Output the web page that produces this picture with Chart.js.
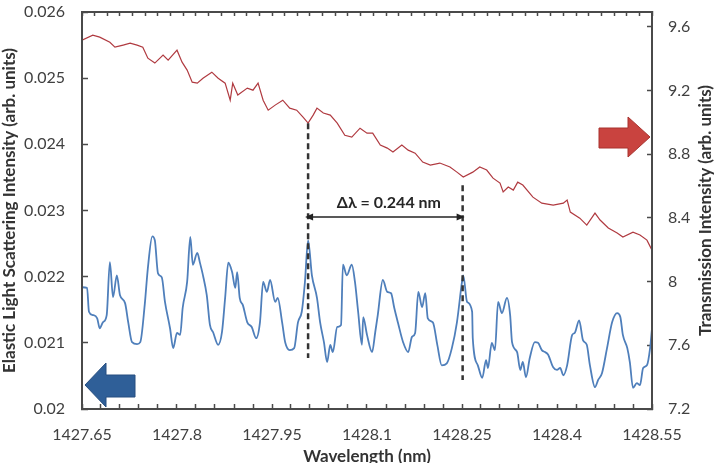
<!DOCTYPE html>
<html>
<head>
<meta charset="utf-8">
<script src="https://cdn.jsdelivr.net/npm/chart.js@4.4.0/dist/chart.umd.min.js"></script>
<style>
  html, body { margin: 0; padding: 0; background: #fff; }
  #wrap { width: 719px; height: 463px; }
</style>
</head>
<body>
<div id="wrap"><canvas id="chart" width="719" height="463"></canvas></div>
<script>
// axis ranges and ticks
const xMin = 1427.65, xMax = 1428.55;
const leftMin = 0.020, leftMax = 0.026;
const rightMin = 7.2, rightMax = 9.694;
const xTickValues = [1427.65, 1427.8, 1427.95, 1428.1, 1428.25, 1428.4, 1428.55];
const xTickLabels = ['1427.65', '1427.8', '1427.95', '1428.1', '1428.25', '1428.4', '1428.55'];
const leftTickValues = [0.020, 0.021, 0.022, 0.023, 0.024, 0.025, 0.026];
const leftTickLabels = ['0.02', '0.021', '0.022', '0.023', '0.024', '0.025', '0.026'];
const rightTickValues = [7.2, 7.6, 8.0, 8.4, 8.8, 9.2, 9.6];
const rightTickLabels = ['7.2', '7.6', '8', '8.4', '8.8', '9.2', '9.6'];
// minor tick marks: every 0.03 nm at the bottom, every 0.02 nm along the top
const xMinorTicks = Array.from({ length: 31 }, (_, i) => +(1427.65 + i * 0.03).toFixed(2));
const topTicks = Array.from({ length: 46 }, (_, i) => +(1427.65 + i * 0.02).toFixed(2));

// elastic light scattering (left axis)
const scatterWl = [1427.650,1427.658,1427.661,1427.667,1427.674,1427.678,1427.683,1427.689,1427.694,1427.699,
  1427.705,1427.710,1427.718,1427.723,1427.729,1427.737,1427.742,1427.749,1427.754,1427.761,
  1427.765,1427.770,1427.776,1427.781,1427.789,1427.794,1427.800,1427.805,1427.809,1427.816,
  1427.821,1427.825,1427.832,1427.836,1427.841,1427.847,1427.852,1427.857,1427.865,1427.871,
  1427.876,1427.881,1427.887,1427.892,1427.895,1427.899,1427.904,1427.911,1427.918,1427.925,
  1427.931,1427.936,1427.942,1427.947,1427.955,1427.959,1427.966,1427.971,1427.978,1427.985,
  1427.991,1427.997,1428.002,1428.007,1428.013,1428.021,1428.026,1428.032,1428.037,1428.042,
  1428.046,1428.053,1428.059,1428.062,1428.068,1428.076,1428.081,1428.086,1428.092,1428.094,
  1428.100,1428.108,1428.113,1428.117,1428.125,1428.132,1428.138,1428.143,1428.149,1428.157,
  1428.165,1428.171,1428.176,1428.181,1428.187,1428.192,1428.196,1428.204,1428.211,1428.218,
  1428.226,1428.234,1428.242,1428.250,1428.252,1428.258,1428.266,1428.267,1428.275,1428.282,
  1428.288,1428.291,1428.297,1428.302,1428.307,1428.313,1428.321,1428.326,1428.329,1428.337,
  1428.342,1428.346,1428.351,1428.357,1428.365,1428.370,1428.376,1428.381,1428.386,1428.394,
  1428.400,1428.405,1428.410,1428.416,1428.424,1428.428,1428.435,1428.441,1428.447,1428.452,
  1428.460,1428.465,1428.471,1428.479,1428.487,1428.495,1428.500,1428.504,1428.511,1428.515,
  1428.520,1428.526,1428.531,1428.536,1428.542,1428.547,1428.550];
const scatterVal = [0.02184,0.02183,0.02147,0.02142,0.02137,0.02122,0.02131,0.02142,0.02222,0.02169,
  0.02202,0.02172,0.02160,0.02131,0.02101,0.02098,0.02101,0.02157,0.02213,0.02261,
  0.02255,0.02205,0.02199,0.02162,0.02122,0.02092,0.02115,0.02112,0.02153,0.02192,
  0.02260,0.02218,0.02236,0.02222,0.02202,0.02172,0.02127,0.02116,0.02097,0.02116,
  0.02168,0.02221,0.02207,0.02183,0.02207,0.02168,0.02157,0.02131,0.02124,0.02107,
  0.02131,0.02192,0.02177,0.02195,0.02162,0.02168,0.02131,0.02100,0.02089,0.02092,
  0.02131,0.02147,0.02192,0.02255,0.02202,0.02168,0.02131,0.02101,0.02071,0.02097,
  0.02086,0.02124,0.02127,0.02218,0.02202,0.02218,0.02192,0.02147,0.02097,0.02139,
  0.02112,0.02086,0.02116,0.02142,0.02195,0.02177,0.02175,0.02153,0.02130,0.02101,
  0.02086,0.02109,0.02115,0.02177,0.02154,0.02175,0.02137,0.02131,0.02097,0.02066,
  0.02069,0.02092,0.02131,0.02192,0.02202,0.02162,0.02147,0.02107,0.02066,0.02047,
  0.02074,0.02062,0.02100,0.02089,0.02162,0.02145,0.02168,0.02142,0.02101,0.02086,
  0.02059,0.02071,0.02048,0.02077,0.02101,0.02100,0.02089,0.02086,0.02082,0.02063,
  0.02059,0.02062,0.02051,0.02066,0.02112,0.02115,0.02134,0.02104,0.02097,0.02066,
  0.02033,0.02044,0.02054,0.02092,0.02131,0.02145,0.02139,0.02112,0.02092,0.02071,
  0.02032,0.02039,0.02036,0.02062,0.02066,0.02092,0.02122];

// transmission (right axis)
const transWl = [1427.650,1427.667,1427.678,1427.694,1427.702,1427.715,1427.726,1427.737,1427.746,1427.754,
  1427.765,1427.778,1427.786,1427.800,1427.808,1427.816,1427.824,1427.832,1427.841,1427.855,
  1427.865,1427.876,1427.884,1427.888,1427.896,1427.911,1427.920,1427.928,1427.936,1427.944,
  1427.955,1427.967,1427.978,1427.989,1427.999,1428.007,1428.015,1428.021,1428.031,1428.042,
  1428.053,1428.065,1428.076,1428.089,1428.100,1428.109,1428.121,1428.132,1428.141,1428.155,
  1428.165,1428.176,1428.188,1428.200,1428.215,1428.231,1428.242,1428.252,1428.267,1428.278,
  1428.289,1428.299,1428.310,1428.315,1428.323,1428.331,1428.338,1428.346,1428.362,1428.376,
  1428.394,1428.410,1428.416,1428.421,1428.436,1428.447,1428.460,1428.468,1428.481,1428.495,
  1428.504,1428.520,1428.531,1428.542,1428.550];
const transVal = [9.517,9.548,9.536,9.504,9.473,9.486,9.498,9.486,9.473,9.404,
  9.373,9.423,9.391,9.454,9.379,9.329,9.253,9.247,9.278,9.316,
  9.278,9.247,9.140,9.247,9.172,9.216,9.203,9.247,9.140,9.077,
  9.109,9.140,9.090,9.077,9.033,8.996,9.046,9.090,9.059,9.046,
  8.996,8.920,8.908,8.964,8.933,8.933,8.858,8.839,8.814,8.858,
  8.826,8.807,8.751,8.732,8.745,8.720,8.688,8.657,8.688,8.720,
  8.701,8.650,8.619,8.563,8.594,8.575,8.625,8.607,8.531,8.493,
  8.481,8.493,8.512,8.437,8.399,8.355,8.431,8.387,8.337,8.305,
  8.280,8.311,8.293,8.261,8.198];

// the two marked resonances and the spacing between them
const peakMarks = [1428.007, 1428.251];
const peakTops = [0.02432, 0.02338];
const peakBottoms = [0.02077, 0.02044];
const deltaY = 0.02290;
const deltaLabel = 'Δλ = 0.244 nm';

const FONT = 'Lato, "Liberation Sans", sans-serif';
const AXIS = '#4a4a4a';

function toPoints(xs, ys) {
  return xs.map((x, i) => ({ x: x, y: ys[i] }));
}

function setTicks(values) {
  return function (scale) {
    scale.ticks = values.map(v => ({ value: v }));
  };
}

function xLabel(v) {
  const k = xTickValues.findIndex(t => Math.abs(t - v) < 1e-6);
  return k >= 0 ? xTickLabels[k] : '';
}

// arrows, delta annotation and the vertical axis titles
const notesPlugin = {
  id: 'notes',
  afterDraw(chart) {
    const { ctx, chartArea: ca, scales } = chart;
    ctx.save();
    ctx.setLineDash([]);

    const ax1 = scales.x.getPixelForValue(peakMarks[0]) - 3;
    const ax2 = scales.x.getPixelForValue(peakMarks[1]) + 2;
    const ay = scales.y.getPixelForValue(deltaY);
    ctx.strokeStyle = '#222';
    ctx.fillStyle = '#222';
    ctx.lineWidth = 1.5;
    ctx.beginPath();
    ctx.moveTo(ax1 + 5, ay);
    ctx.lineTo(ax2 - 5, ay);
    ctx.stroke();
    ctx.beginPath();
    ctx.moveTo(ax1, ay); ctx.lineTo(ax1 + 8, ay - 3.5); ctx.lineTo(ax1 + 8, ay + 3.5); ctx.closePath();
    ctx.moveTo(ax2, ay); ctx.lineTo(ax2 - 8, ay - 3.5); ctx.lineTo(ax2 - 8, ay + 3.5); ctx.closePath();
    ctx.fill();

    ctx.font = 'bold 16px ' + FONT;
    ctx.fillStyle = '#262626';
    ctx.textAlign = 'center';
    ctx.textBaseline = 'middle';
    ctx.fillText(deltaLabel, (ax1 + ax2) / 2 + 4, ay - 14);

    // blue arrow -> left axis
    const bl = ca.left, bb = ca.bottom;
    ctx.beginPath();
    ctx.moveTo(bl + 3, bb - 24);
    ctx.lineTo(bl + 24, bb - 46);
    ctx.lineTo(bl + 24, bb - 34);
    ctx.lineTo(bl + 53, bb - 34);
    ctx.lineTo(bl + 53, bb - 12);
    ctx.lineTo(bl + 24, bb - 12);
    ctx.lineTo(bl + 24, bb - 2);
    ctx.closePath();
    ctx.fillStyle = '#2f5f98';
    ctx.fill();
    ctx.strokeStyle = '#274f80';
    ctx.lineWidth = 1;
    ctx.stroke();

    // red arrow -> right axis
    const rr = ca.right, rt = ca.top;
    ctx.beginPath();
    ctx.moveTo(rr - 2, rt + 125);
    ctx.lineTo(rr - 24, rt + 105);
    ctx.lineTo(rr - 24, rt + 116);
    ctx.lineTo(rr - 53, rt + 116);
    ctx.lineTo(rr - 53, rt + 136);
    ctx.lineTo(rr - 24, rt + 136);
    ctx.lineTo(rr - 24, rt + 145);
    ctx.closePath();
    ctx.fillStyle = '#c9433f';
    ctx.fill();
    ctx.strokeStyle = '#a8332f';
    ctx.stroke();

    // both vertical titles read bottom to top
    const midY = (ca.top + ca.bottom) / 2;
    ctx.fillStyle = '#333';
    ctx.font = 'bold 17px ' + FONT;
    ctx.textAlign = 'center';
    ctx.textBaseline = 'middle';
    ctx.save();
    ctx.translate(10, midY);
    ctx.rotate(-Math.PI / 2);
    ctx.fillText('Elastic Light Scattering Intensity (arb. units)', 0, 0);
    ctx.restore();
    ctx.save();
    ctx.translate(706, midY);
    ctx.rotate(-Math.PI / 2);
    ctx.fillText('Transmission Intensity (arb. units)', 0, 0);
    ctx.restore();

    ctx.restore();
  }
};

const tickFont = { family: FONT, size: 16 };

function innerTicks(len) {
  return {
    display: true,
    drawOnChartArea: false,
    drawTicks: true,
    tickLength: -len,
    tickWidth: 1.5,
    tickColor: AXIS
  };
}
const frameBorder = { display: true, color: AXIS, width: 2 };

new Chart(document.getElementById('chart'), {
  type: 'line',
  data: {
    datasets: [
      {
        label: 'frame',
        data: [{ x: xMin, y: leftMin }, { x: xMax, y: leftMin }, { x: xMax, y: leftMax },
               { x: xMin, y: leftMax }, { x: xMin, y: leftMin }],
        borderColor: AXIS,
        borderWidth: 2,
        pointRadius: 0,
        clip: 4,
        yAxisID: 'y',
        order: 0
      },
      {
        label: 'dash1',
        data: [{ x: peakMarks[0], y: peakTops[0] }, { x: peakMarks[0], y: peakBottoms[0] }],
        borderColor: '#333',
        borderWidth: 2.5,
        borderDash: [6, 4],
        pointRadius: 0,
        yAxisID: 'y',
        order: 0
      },
      {
        label: 'dash2',
        data: [{ x: peakMarks[1], y: peakTops[1] }, { x: peakMarks[1], y: peakBottoms[1] }],
        borderColor: '#333',
        borderWidth: 2.5,
        borderDash: [6, 4],
        pointRadius: 0,
        yAxisID: 'y',
        order: 0
      },
      {
        label: 'Elastic light scattering',
        data: toPoints(scatterWl, scatterVal),
        borderColor: '#4f7fbb',
        borderWidth: 1.8,
        pointRadius: 0,
        cubicInterpolationMode: 'monotone',
        yAxisID: 'y',
        order: 1
      },
      {
        label: 'Transmission',
        data: toPoints(transWl, transVal),
        borderColor: '#b03a40',
        borderWidth: 1.2,
        pointRadius: 0,
        tension: 0,
        yAxisID: 'y2',
        order: 1
      }
    ]
  },
  options: {
    responsive: false,
    animation: false,
    devicePixelRatio: 1,
    layout: { padding: 0 },
    plugins: {
      legend: { display: false },
      tooltip: { enabled: false }
    },
    scales: {
      x: {
        type: 'linear',
        position: 'bottom',
        min: xMin,
        max: xMax,
        afterBuildTicks: setTicks(xMinorTicks),
        afterFit: s => { s.height = 54; s.paddingLeft = 0; s.paddingRight = 0; },
        grid: innerTicks(5),
        border: frameBorder,
        ticks: {
          autoSkip: false,
          maxRotation: 0,
          padding: 21,
          color: '#404040',
          font: tickFont,
          callback: v => xLabel(v)
        },
        title: {
          display: true,
          text: 'Wavelength (nm)',
          color: '#333',
          font: { family: FONT, size: 17, weight: 'bold' },
          padding: { top: 0, bottom: -4 }
        }
      },
      x2: {
        type: 'linear',
        position: 'top',
        min: xMin,
        max: xMax,
        afterBuildTicks: setTicks(topTicks),
        afterFit: s => { s.height = 12; s.paddingLeft = 0; s.paddingRight = 0; },
        grid: innerTicks(4),
        border: frameBorder,
        ticks: { display: false, autoSkip: false }
      },
      y: {
        position: 'left',
        min: leftMin,
        max: leftMax,
        afterBuildTicks: setTicks(leftTickValues),
        afterFit: s => { s.width = 82; s.paddingTop = 0; s.paddingBottom = 0; },
        grid: innerTicks(6),
        border: frameBorder,
        ticks: {
          padding: 23,
          color: '#404040',
          font: tickFont,
          callback: (v, i) => leftTickLabels[i]
        }
      },
      y2: {
        position: 'right',
        min: rightMin,
        max: rightMax,
        afterBuildTicks: setTicks(rightTickValues),
        afterFit: s => { s.width = 67; s.paddingTop = 0; s.paddingBottom = 0; },
        grid: innerTicks(5),
        border: frameBorder,
        ticks: {
          padding: 21,
          color: '#404040',
          font: tickFont,
          callback: (v, i) => rightTickLabels[i]
        }
      }
    }
  },
  plugins: [notesPlugin]
});
</script>
</body>
</html>
